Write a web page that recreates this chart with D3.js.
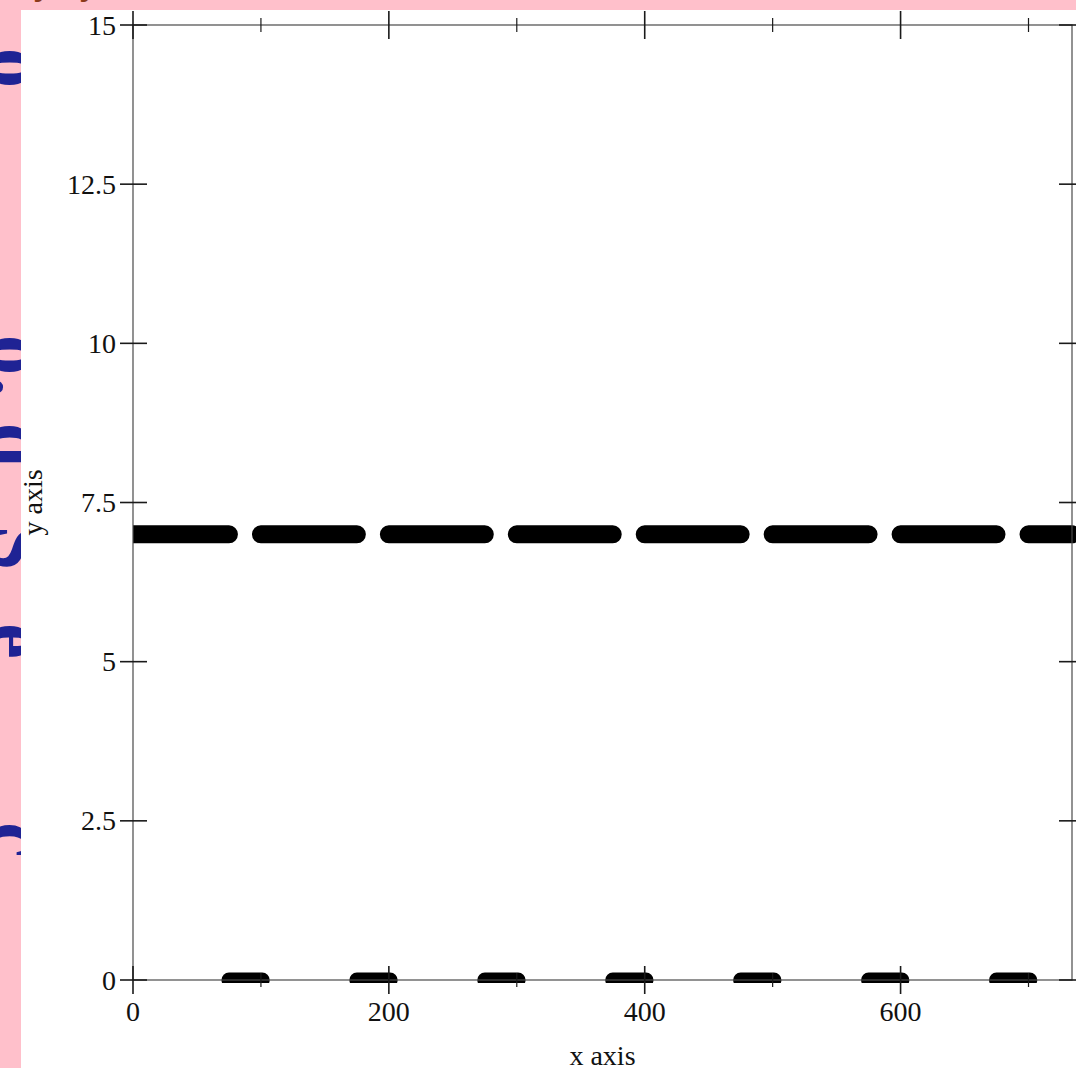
<!DOCTYPE html>
<html>
<head>
<meta charset="utf-8">
<script src="https://cdn.jsdelivr.net/npm/d3@7"></script>
<style>
  html, body { margin: 0; padding: 0; background: #ffc0cb; overflow: hidden; }
  svg { display: block; }
</style>
</head>
<body>
<script>
// ---- data ----
const xDomain = [0, 734];
const yDomain = [0, 15];
const xMajorTicks = [0, 200, 400, 600];
const xMinorTicks = [100, 300, 500, 700];
const yTicks = [0, 2.5, 5, 7.5, 10, 12.5, 15];
const yTickLabels = ["0", "2.5", "5", "7.5", "10", "12.5", "15"];

// two constant series, drawn as dashed strokes
const upperX = [0, 734];
const upperY = [7, 7];
const lowerX = [0, 734];
const lowerY = [0, 0];
// dash patterns in x-axis units: [dash, gap], and where the first dash starts
const upperDash = [75, 25], upperDashStart = 0;
const lowerDash = [26, 74], lowerDashStart = 75;

const W = 1076, H = 1068;
const plot = { left: 133, top: 25, right: 1072, bottom: 980 };

const svg = d3.select("body").append("svg")
  .attr("width", W).attr("height", H);

// page backdrop
svg.append("rect").attr("width", W).attr("height", H).attr("fill", "#ffc0cb");

// rotated heading glyphs running down the left margin
const sideGlyphs = [
  { ch: "o", y: 68 }, { ch: "o", y: 355 }, { ch: ".", y: 387 },
  { ch: "d", y: 445 }, { ch: "S", y: 548 }, { ch: "e", y: 641 }, { ch: "c", y: 840 }
];
svg.append("g").selectAll("text").data(sideGlyphs).join("text")
  .attr("transform", d => `translate(-9,${d.y}) rotate(90)`)
  .attr("text-anchor", "middle")
  .attr("font-family", "Liberation Serif, serif")
  .attr("font-size", 80)
  .attr("font-weight", "bold")
  .attr("fill", "#1f2394")
  .text(d => d.ch);

// page title above the frame
svg.append("g").selectAll("text").data([{ ch: "y", x: 44 }, { ch: "y", x: 90 }]).join("text")
  .attr("x", d => d.x).attr("y", -7)
  .attr("text-anchor", "middle")
  .attr("font-family", "Liberation Serif, serif")
  .attr("font-size", 40)
  .attr("fill", "#8b3a1a")
  .text(d => d.ch);

// white sheet
svg.append("rect").attr("x", 21).attr("y", 10).attr("width", W - 21).attr("height", H - 10)
  .attr("fill", "#ffffff");

const x = d3.scaleLinear().domain(xDomain).range([plot.left, plot.right]);
const y = d3.scaleLinear().domain(yDomain).range([plot.bottom, plot.top]);

const font = "Liberation Serif, 'Times New Roman', serif";

// ---- series ----
svg.append("clipPath").attr("id", "plotClip").append("rect")
  .attr("x", plot.left).attr("y", plot.top)
  .attr("width", W - plot.left).attr("height", plot.bottom + 3 - plot.top);

const line = d3.line().x(d => x(d[0])).y(d => y(d[1]));
const unit = v => x(v) - x(0);

// the stroke begins at the first dash, so the pattern needs no offset
function dashed(xs, ys, dash, start, width) {
  const pts = xs.map((v, i) => [v, ys[i]]).filter(p => p[0] >= start);
  if (pts[0][0] > start) pts.unshift([start, ys[0]]);
  svg.append("path")
    .attr("clip-path", "url(#plotClip)")
    .attr("d", line(pts))
    .attr("fill", "none")
    .attr("stroke", "#000")
    .attr("stroke-width", width)
    .attr("stroke-linecap", "round")
    .attr("stroke-dasharray", `${unit(dash[0])},${unit(dash[1])}`);
}
dashed(upperX, upperY, upperDash, upperDashStart, 18);
dashed(lowerX, lowerY, lowerDash, lowerDashStart, 15);

// ---- frame ----
svg.append("rect")
  .attr("x", plot.left).attr("y", plot.top)
  .attr("width", plot.right - plot.left).attr("height", plot.bottom - plot.top)
  .attr("fill", "none").attr("stroke", "#4a4a4a").attr("stroke-width", 1.2);

const ticks = svg.append("g").attr("stroke", "#1a1a1a");
// x ticks on bottom and top edges, crossing the frame
[plot.bottom, plot.top].forEach(edge => {
  ticks.selectAll(null).data(xMajorTicks).join("line")
    .attr("x1", d => x(d)).attr("x2", d => x(d))
    .attr("y1", edge - 14).attr("y2", edge + 14)
    .attr("stroke-width", 1.6);
  ticks.selectAll(null).data(xMinorTicks).join("line")
    .attr("x1", d => x(d)).attr("x2", d => x(d))
    .attr("y1", edge - 7).attr("y2", edge + 7)
    .attr("stroke-width", 1.2);
});
// y ticks on left and right edges
[plot.left, plot.right].forEach(edge => {
  ticks.selectAll(null).data(yTicks).join("line")
    .attr("x1", edge - 13).attr("x2", edge + 14)
    .attr("y1", d => y(d)).attr("y2", d => y(d))
    .attr("stroke-width", 1.6);
});

// tick labels
svg.append("g").selectAll("text").data(xMajorTicks).join("text")
  .attr("x", d => x(d)).attr("y", plot.bottom + 41)
  .attr("text-anchor", "middle")
  .attr("font-family", font).attr("font-size", 28).attr("fill", "#111")
  .text(d => d3.format("d")(d));

svg.append("g").selectAll("text").data(yTicks).join("text")
  .attr("x", plot.left - 17).attr("y", d => y(d)).attr("dy", "0.34em")
  .attr("text-anchor", "end")
  .attr("font-family", font).attr("font-size", 28).attr("fill", "#111")
  .text((d, i) => yTickLabels[i]);

// axis titles
svg.append("text")
  .attr("x", (plot.left + plot.right) / 2).attr("y", 1065)
  .attr("text-anchor", "middle")
  .attr("font-family", font).attr("font-size", 28).attr("fill", "#111")
  .text("x axis");

svg.append("text")
  .attr("transform", `translate(42,${(plot.top + plot.bottom) / 2}) rotate(-90)`)
  .attr("text-anchor", "middle")
  .attr("font-family", font).attr("font-size", 28).attr("fill", "#111")
  .text("y axis");
</script>
</body>
</html>
